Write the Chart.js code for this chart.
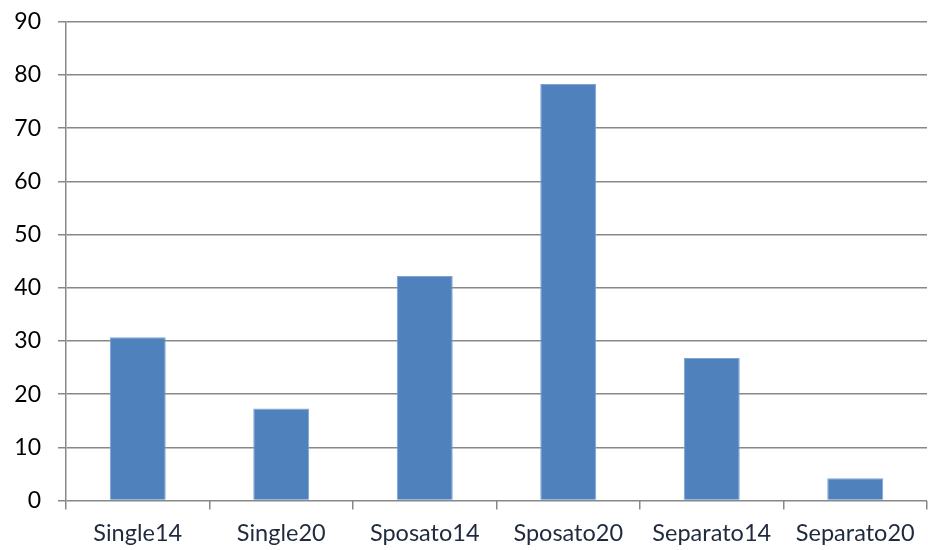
<!DOCTYPE html>
<html>
<head>
<meta charset="utf-8">
<script src="https://cdn.jsdelivr.net/npm/chart.js@4/dist/chart.umd.min.js"></script>
<style>
  html, body { margin: 0; padding: 0; background: #fff; }
  #wrap { width: 928px; height: 550px; }
</style>
</head>
<body>
<div id="wrap"><canvas id="canvas-bars"></canvas></div>
<script>
// data
const categories = ['Single14', 'Single20', 'Sposato14', 'Sposato20', 'Separato14', 'Separato20'];
const values = [30.7, 17.3, 42.2, 78.3, 26.8, 4.2];
const yTicks = [0, 10, 20, 30, 40, 50, 60, 70, 80, 90];

const bars = () => {
const ctx = document.getElementById('canvas-bars').getContext('2d');
const myChart = new Chart(ctx, {
    type: 'bar',
    data: {
        labels: categories,
        datasets: [{
            data: values,
            backgroundColor: '#4F81BD',
            borderColor: '#7FA3D3',
            borderWidth: 1,
            categoryPercentage: 1,
            barPercentage: 0.39
        }]
    },
    options: {
        responsive: true,
        maintainAspectRatio: false,
        animation: false,
        layout: { padding: { top: 21.7, right: 1, left: 0, bottom: 0 } },
        plugins: {
            legend: { display: false },
            tooltip: { enabled: false }
        },
        scales: {
            x: {
                offset: true,
                grid: {
                    offset: true,
                    drawOnChartArea: false,
                    drawTicks: true,
                    tickLength: 9,
                    color: '#888',
                    lineWidth: 1.5
                },
                border: { display: false },
                ticks: {
                    color: '#1F2A3C',
                    padding: 10,
                    font: { family: 'Lato', size: 23.5 }
                },
                afterFit: (scale) => { scale.height = 49.5; scale.paddingLeft = 0; scale.paddingRight = 0; }
            },
            y: {
                min: 0,
                max: 90,
                afterBuildTicks: (scale) => { scale.ticks = yTicks.map(v => ({ value: v })); },
                grid: {
                    color: '#888',
                    lineWidth: 1.5,
                    tickLength: 8
                },
                border: { display: true, color: '#888', width: 1.5 },
                ticks: {
                    color: '#000',
                    padding: 17,
                    font: { family: 'Lato', size: 23 }
                },
                afterFit: (scale) => { scale.width = 66; scale.paddingTop = 0; scale.paddingBottom = 0; }
            }
        }
    }
});
}
bars()
</script>
</body>
</html>
